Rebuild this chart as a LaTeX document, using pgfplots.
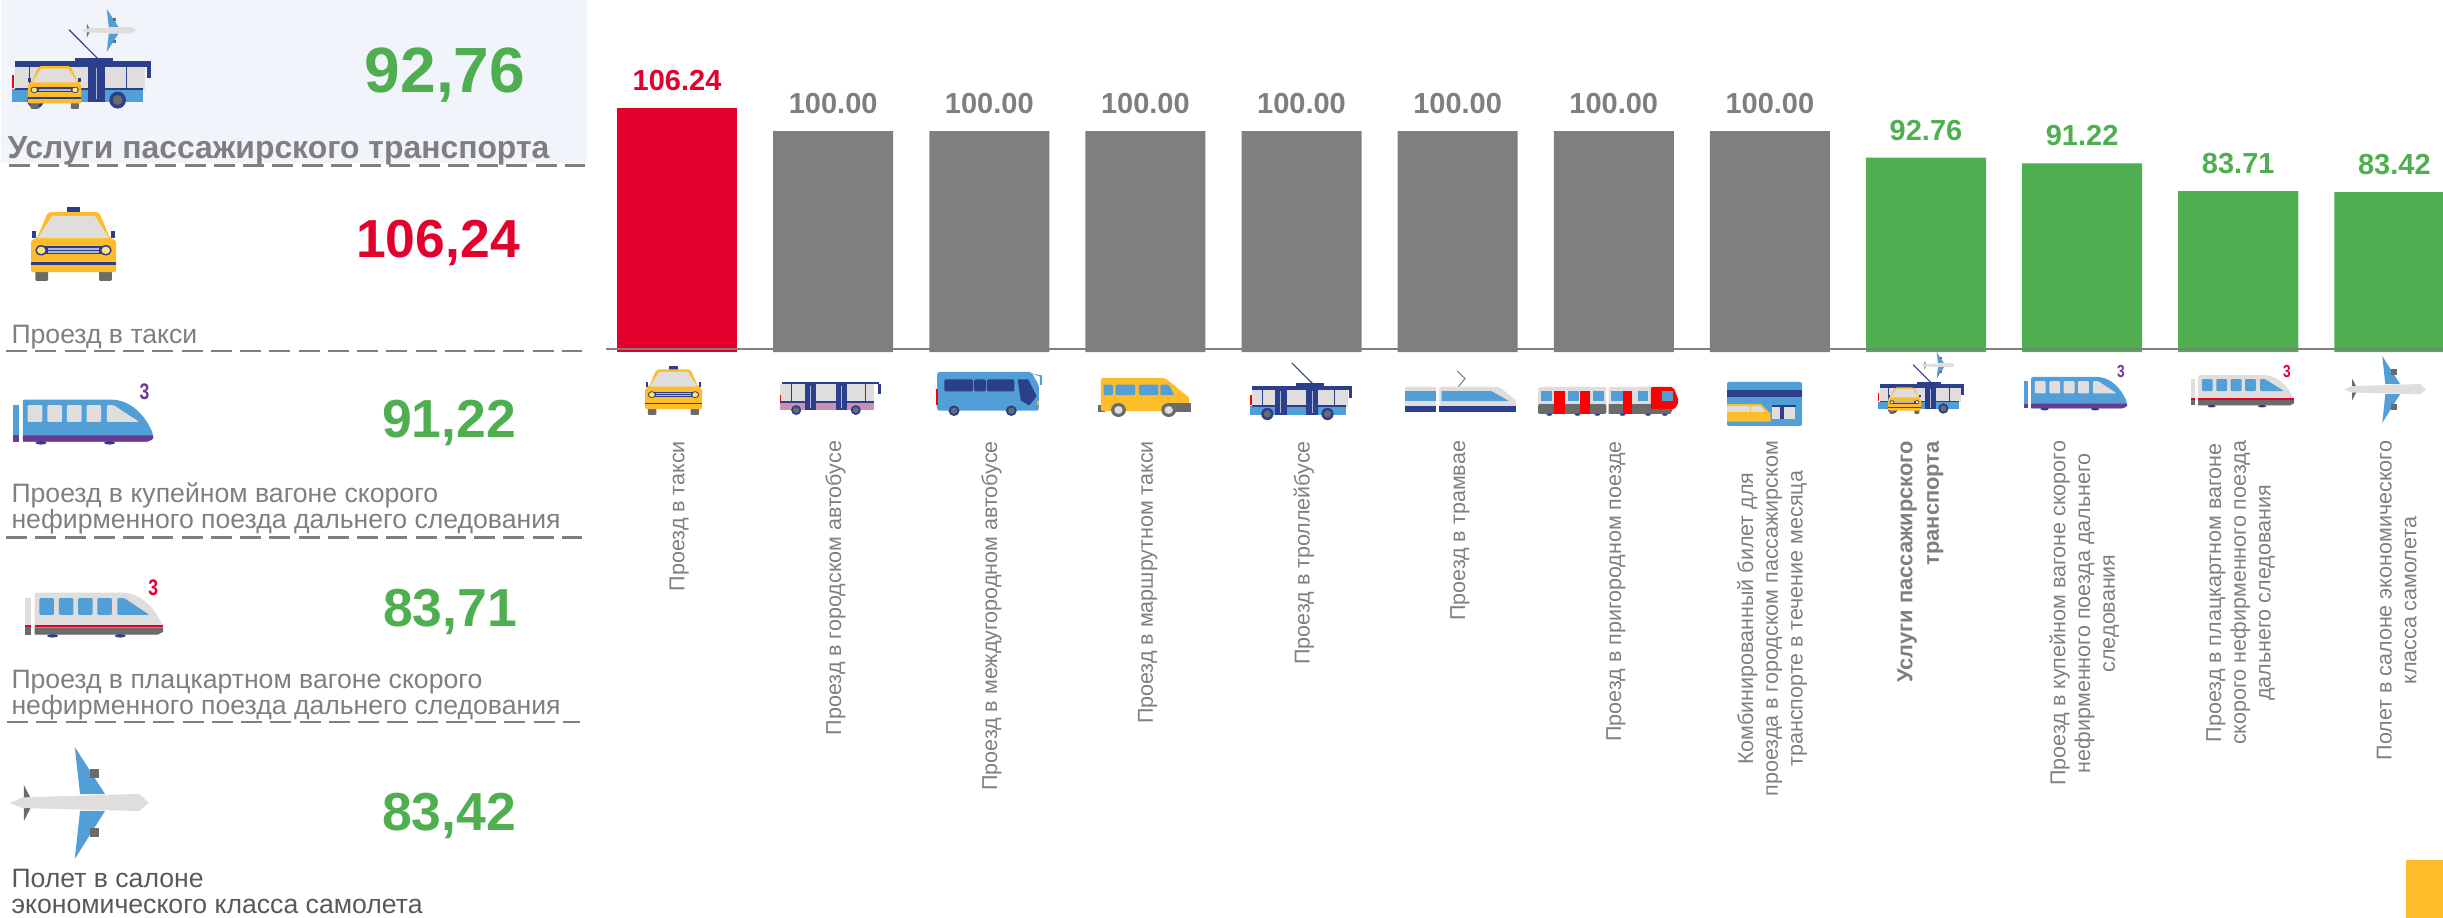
\documentclass[border=0pt]{standalone}
\usepackage{fontspec}
\setmainfont{Liberation Sans}
\usepackage{pgfplots}
\pgfplotsset{compat=1.18}
\definecolor{cred}{HTML}{E3002C}
\definecolor{cgray}{HTML}{7F7F7F}
\definecolor{cgreen}{HTML}{4FAF50}
\definecolor{cpanel}{HTML}{F2F4FB}
\definecolor{cdark}{HTML}{595959}
\definecolor{yel}{HTML}{FDBD2B}
\definecolor{tnavy}{HTML}{2B3F8A}
\definecolor{tblue}{HTML}{529FD7}
\definecolor{lgr}{HTML}{DFDEDC}
\definecolor{dgr}{HTML}{6B6B6B}
\definecolor{tpink}{HTML}{C891B5}
\definecolor{tpurple}{HTML}{6A3A93}
\definecolor{stripe}{HTML}{AEB8D8}
\definecolor{lamp}{HTML}{FFE27A}
\newcommand\place[5]{\begin{scope}[shift={(#1,#2)},xscale={(#3-(#1))/100},yscale={(#4-(#2))/100}]#5\end{scope}}
\newcommand\taxi{%
 \fill[dgr,rounded corners=.4pt] (5,83) rectangle (20,100);
 \fill[dgr,rounded corners=.4pt] (80,83) rectangle (95,100);
 \fill[tnavy] (42,0) rectangle (58,8);
 \fill[yel,rounded corners=.8pt] (20,7) -- (80,7) -- (93,42) -- (100,45) -- (100,88) -- (0,88) -- (0,45) -- (7,42) -- cycle;
 \fill[lgr] (25,12) -- (75,12) -- (92,42) -- (8,42) -- cycle;
 \fill[tnavy] (1,32) rectangle (6,42);
 \fill[tnavy] (94,32) rectangle (99,42);
 \fill[tnavy] (14,53) rectangle (86,64);
 \fill[stripe] (20,55.5) rectangle (80,57.5);
 \fill[stripe] (20,59.5) rectangle (80,61.5);
 \fill[tnavy] (12,58.5) ellipse [x radius=7,y radius=7];
 \fill[tnavy] (88,58.5) ellipse [x radius=7,y radius=7];
 \fill[lamp] (12,58.5) ellipse [x radius=5,y radius=5];
 \fill[lamp] (88,58.5) ellipse [x radius=5,y radius=5];
 \fill[tnavy] (0,75) rectangle (100,78);
}
\newcommand\trolley{%
 \draw[tnavy,line width=.45pt] (41,0) -- (62,38);
 \fill[tnavy] (45,36) rectangle (73,42);
 \fill[lgr] (2,45) rectangle (96,78);
 \fill[tblue] (0,77) rectangle (94,93);
 \fill[tnavy] (2,41) rectangle (100,48);
 \fill[tnavy] (2,75) rectangle (94,78);
 \fill[tnavy] (12,46) rectangle (13,77);
 \fill[tnavy] (82,46) rectangle (83,77);
 \fill[tnavy] (24,46) rectangle (36,93);
 \fill[tnavy] (55,46) rectangle (67,93);
 \fill[stripe] (29.6,50) rectangle (30.4,90);
 \fill[stripe] (60.6,50) rectangle (61.4,90);
 \fill[tnavy] (97,47) rectangle (100,62);
 \fill[red] (0,58) rectangle (1.5,75);
 \fill[tnavy] (17,91) ellipse [x radius=6,y radius=11];
 \fill[tnavy] (76,91) ellipse [x radius=6,y radius=11];
 \fill[dgr] (17,91) ellipse [x radius=3.5,y radius=6.5];
 \fill[dgr] (76,91) ellipse [x radius=3.5,y radius=6.5];
}
\newcommand\bus{%
 \fill[lgr] (0,7) rectangle (93,62);
 \fill[tpink] (0,62) rectangle (93,86);
 \fill[tnavy] (2,0) rectangle (98,7);
 \fill[tnavy] (0,58) rectangle (93,63);
 \fill[tnavy] (11,7) rectangle (12,58);
 \fill[tnavy] (84,7) rectangle (85,58);
 \fill[tnavy] (25,7) rectangle (36,86);
 \fill[tnavy] (55,7) rectangle (66,86);
 \fill[stripe] (30,12) rectangle (31,80);
 \fill[stripe] (60,12) rectangle (61,80);
 \fill[tnavy] (97,5) rectangle (100,35);
 \fill[red] (0,40) rectangle (1,62);
 \fill[tnavy] (16,85) ellipse [x radius=5,y radius=15];
 \fill[tnavy] (75,85) ellipse [x radius=5,y radius=15];
 \fill[dgr] (16,85) ellipse [x radius=3,y radius=9];
 \fill[dgr] (75,85) ellipse [x radius=3,y radius=9];
}
\newcommand\coach{%
 \fill[tblue,rounded corners=1pt] (1,0) -- (90,0) -- (97,30) -- (97,88) -- (1,88) -- cycle;
 \fill[tblue] (90,3) -- (100,8) -- (100,30) -- (98,30) -- (98,10) -- cycle;
 \fill[tnavy,rounded corners=.5pt] (8,17) rectangle (35,44);
 \fill[tnavy,rounded corners=.5pt] (36,17) rectangle (47,44);
 \fill[tnavy,rounded corners=.5pt] (48,17) rectangle (74,44);
 \fill[tnavy] (77,17) -- (87,17) -- (95,55) -- (88,76) -- (80,65) -- cycle;
 \fill[red] (0,38) rectangle (1.5,75);
 \fill[yel] (95,66) rectangle (97,76);
 \fill[tnavy] (17,88) ellipse [x radius=5.2,y radius=12];
 \fill[tnavy] (71,88) ellipse [x radius=5.2,y radius=12];
 \fill[dgr] (17,88) ellipse [x radius=3,y radius=7];
 \fill[dgr] (71,88) ellipse [x radius=3,y radius=7];
}
\newcommand\minibus{%
 \fill[dgr] (0,68) rectangle (8,86);
 \fill[yel,rounded corners=1pt] (3,0) -- (72,0) -- (98,50) -- (98,85) -- (3,85) -- cycle;
 \fill[dgr] (75,64) -- (100,64) -- (100,86) -- (75,86) -- cycle;
 \fill[tblue,rounded corners=.5pt] (6,17) rectangle (16,44);
 \fill[tblue,rounded corners=.5pt] (19,17) rectangle (40,44);
 \fill[tblue,rounded corners=.5pt] (44,17) rectangle (65,44);
 \fill[tblue,rounded corners=.5pt] (67,17) -- (76,17) -- (82,44) -- (67,44) -- cycle;
 \fill[dgr] (22,82) ellipse [x radius=8,y radius=18];
 \fill[dgr] (76,82) ellipse [x radius=8,y radius=18];
 \fill[lgr] (22,82) ellipse [x radius=4.5,y radius=10];
 \fill[lgr] (76,82) ellipse [x radius=4.5,y radius=10];
}
\newcommand\tram{%
 \draw[dgr,line width=.35pt] (47,0) -- (54,18) -- (48,38);
 \fill[lgr,rounded corners=.5pt] (0,38) rectangle (28,92);
 \fill[tblue] (0,48) rectangle (28,72);
 \fill[tnavy] (0,84) rectangle (28,97);
 \fill[lgr,rounded corners=.6pt] (31,38) -- (85,38) -- (100,70) -- (100,92) -- (31,92) -- cycle;
 \fill[tblue] (33,48) -- (78,48) -- (94,72) -- (33,72) -- cycle;
 \fill[tnavy] (31,84) rectangle (100,97);
}
\newcommand\suburban{%
 \fill[lgr,rounded corners=.5pt] (0,0) rectangle (48.5,62);
 \fill[dgr,rounded corners=.5pt] (0,60) rectangle (48.5,94);
 \fill[lgr,rounded corners=.5pt] (50,0) rectangle (84,62);
 \fill[dgr] (50,60) -- (97,60) -- (94,94) -- (50,94) -- cycle;
 \foreach \a/\b in {2/10,21/29,39/47,52/60,71/78}{\fill[tblue] (\a,15) rectangle (\b,50);}
 \foreach \a/\b in {11/19,30/37,60/67}{\fill[red] (\a,15) rectangle (\b,94);}
 \fill[red,rounded corners=.8pt] (80,0) -- (96,0) -- (100,50) -- (97,78) -- (80,78) -- cycle;
 \fill[tblue] (88,15) rectangle (96,50);
 \foreach \a in {8,28,42,60,78,90}{\fill[tnavy] (\a,97) ellipse [x radius=2,y radius=4];}
}
\newcommand\card{%
 \fill[tblue,rounded corners=.8pt] (0,0) rectangle (100,100);
 \fill[tnavy] (0,18) rectangle (100,35);
 \fill[yel] (0,50) -- (45,50) -- (58,72) -- (58,90) -- (0,90) -- cycle;
 \fill[lgr] (0,54) -- (30,54) -- (30,68) -- (0,68) -- cycle;
 \fill[lgr] (32,54) -- (44,54) -- (52,68) -- (32,68) -- cycle;
 \fill[lgr] (60,55) rectangle (90,85);
 \fill[tnavy] (60,52) rectangle (92,56);
 \fill[tnavy] (70,56) rectangle (76,85);
}
\newcommand\plane{%
 \fill[tblue] (46.6,0) -- (68.4,42) -- (50.4,42) -- cycle;
 \fill[tblue] (46.6,100) -- (68.4,57) -- (50.4,57) -- cycle;
 \fill[dgr] (57.5,20) rectangle (64,28);
 \fill[dgr] (57.5,72) rectangle (64,80);
 \fill[dgr] (10,34) -- (15,46) -- (10,46) -- cycle;
 \fill[dgr] (10,66) -- (15,54) -- (10,54) -- cycle;
 \fill[lgr] (0,50) -- (9,45) -- (88,42) -- (93,42) -- (100,50) -- (93,57) -- (88,57) -- (9,54.5) -- cycle;
}
\newcommand\trainbody[2]{%
 \fill[#1] (0,32) rectangle (4,96);
 \fill[#1,rounded corners=.8pt] (7,22) -- (70,22) .. controls (84,24) and (94,48) .. (100,82) -- (100,92) -- (96,96) -- (7,96) -- cycle;
 \foreach \a/\b in {10.5/21,24.5/35,38.5/49,52.5/63}{\fill[#2,rounded corners=.4pt] (\a,32) rectangle (\b,61);}
 \fill[#2,rounded corners=.4pt] (67,32) -- (72,32) -- (90,61) -- (67,61) -- cycle;
}
\newcommand\trainb[1]{%
 \trainbody{tblue}{lgr}
 \fill[tpurple] (7,85) -- (100,85) -- (100,91) -- (96,96) -- (7,96) -- cycle;
 \fill[tpurple] (0,85) rectangle (4,96);
 \fill[tnavy] (20,98) ellipse [x radius=4,y radius=3];
 \fill[tnavy] (69,98) ellipse [x radius=4,y radius=3];
 \node[inner sep=0,xscale=.78,text=tpurple,font=\bfseries\fontsize{#1}{#1}\selectfont] at (94,9) {3};
}
\newcommand\trainc[1]{%
 \trainbody{lgr}{tblue}
 \fill[dgr] (7,83) -- (100,83) -- (100,91) -- (96,96) -- (7,96) -- cycle;
 \fill[dgr] (0,83) rectangle (4,96);
 \fill[cred] (7,79) rectangle (100,83);
 \fill[cred] (0,79) rectangle (4,83);
 \fill[tnavy] (20,98) ellipse [x radius=4,y radius=3];
 \fill[tnavy] (69,98) ellipse [x radius=4,y radius=3];
 \node[inner sep=0,xscale=.78,text=cred,font=\bfseries\fontsize{#1}{#1}\selectfont] at (93,14) {3};
}
\newcommand\combo{%
 \place{0}{20.7}{100}{98}{\trolley}
 \place{50}{0}{89}{43}{\plane}
 \place{11.4}{54}{50}{100}{\taxi}
}
\newcommand\num[5]{\node[anchor=base,inner sep=0,text=#4,font=\bfseries\fontsize{#3}{#3}\selectfont] at (#1,#2) {#5};}
\newcommand\ltxt[4]{\node[anchor=base west,inner sep=0,text=#3,font=\fontsize{10.65}{12}\selectfont] at (#1,#2) {#4};}
\begin{document}
\begin{tikzpicture}[x=0.4pt,y=-0.4pt]
\path[use as bounding box] (0,0) rectangle (2443,918);
% left panel
\fill[cpanel] (1,0) rectangle (587,163);
\node[anchor=base west,inner sep=0,text=cgray,font=\bfseries\fontsize{12.75}{14}\selectfont] at (7,159) {Услуги пассажирского транспорта};
\ltxt{11}{344}{cgray}{Проезд в такси}
\ltxt{11}{502.7}{cgray}{Проезд в купейном вагоне скорого}
\ltxt{11}{528.5}{cgray}{нефирменного поезда дальнего следования}
\ltxt{11}{688.7}{cgray}{Проезд в плацкартном вагоне скорого}
\ltxt{11}{714.5}{cgray}{нефирменного поезда дальнего следования}
\ltxt{11}{887}{cdark}{Полет в салоне}
\ltxt{11}{913}{cdark}{экономического класса самолета}
\foreach \y/\a/\b in {165.7/9/585,351/6/582,537.7/6/582,722/7/580}{
  \draw[cgray,line width=1.1pt,dash pattern=on 8.4pt off 3.3pt] (\a,\y) -- (\b,\y);
}
\num{445}{93}{25.6}{cgreen}{92,76}
\num{438}{258}{21.4}{cred}{106,24}
\num{449}{437}{21.4}{cgreen}{91,22}
\num{450}{626}{21.4}{cgreen}{83,71}
\num{449}{830}{21.4}{cgreen}{83,42}
\place{12}{9}{151}{109}{\combo}
\place{31}{207}{116}{281}{\taxi}
\place{13}{387}{153}{444}{\trainb{9}}
\place{25}{580}{163}{637}{\trainc{9}}
\place{10}{747}{149}{859}{\plane}
% bar chart
\begin{axis}[
  at={(242.4pt,-140.8pt)},anchor=south west,
  scale only axis,width=734.8pt,height=140.8pt,
  xmin=-0.455,xmax=11.312,ymin=40,ymax=135.6,
  axis line style={draw=none},major tick length=0pt,
  ytick=\empty,
  xtick={0,1,2,3,4,5,6,7,8,9,10,11},
  xticklabels={
    {Проезд в такси},
    {Проезд в городском автобусе},
    {Проезд в междугородном автобусе},
    {Проезд в маршрутном такси},
    {Проезд в троллейбусе},
    {Проезд в трамвае},
    {Проезд в пригородном поезде},
    {Комбинированный билет для\\проезда в городском пассажирском\\транспорте в течение месяца},
    {\raisebox{3.2pt}[\height][\depth]{\fontsize{8.75}{10.6}\selectfont\begin{tabular}{@{}r@{}}\textbf{Услуги пассажирского}\hspace{3.3pt}\\\textbf{транспорта}\hspace{3.3pt}\end{tabular}}},
    {Проезд в купейном вагоне скорого\\нефирменного поезда дальнего\\следования},
    {Проезд в плацкартном вагоне\\скорого нефирменного поезда\\дальнего следования},
    {Полет в салоне экономического\\класса самолета}},
  xticklabel style={rotate=90,anchor=east,align=center,text=cgray,inner sep=0,xshift=-35.4pt,yshift=-.9pt,
     font=\fontsize{8.6}{9.9}\selectfont},
  every node near coord/.append style={anchor=base,yshift=7pt,inner sep=0,
     font=\bfseries\fontsize{11.6}{12}\selectfont},
  nodes near coords,
  /pgf/number format/.cd,fixed,fixed zerofill,precision=2,assume math mode=true,
]
\addplot[ybar,bar width=48pt,bar shift=0pt,fill=cred,draw=none,
  every node near coord/.append style={text=cred}] coordinates {(0,106.24)};
\addplot[ybar,bar width=48pt,bar shift=0pt,fill=cgray,draw=none,
  every node near coord/.append style={text=cgray}] coordinates {(1,100)(2,100)(3,100)(4,100)(5,100)(6,100)(7,100)};
\addplot[ybar,bar width=48pt,bar shift=0pt,fill=cgreen,draw=none,
  every node near coord/.append style={text=cgreen}] coordinates {(8,92.76)(9,91.22)(10,83.71)(11,83.42)};
\addplot[cgray,line width=1.1pt,forget plot,nodes near coords=] coordinates {(-0.455,40.8)(11.312,40.8)};
\end{axis}
% pictograms
\place{645}{366}{702}{415}{\taxi}
\place{780}{382}{881}{415}{\bus}
\place{936}{372}{1042}{416}{\coach}
\place{1098}{378}{1191}{417}{\minibus}
\place{1250}{363}{1352}{419}{\trolley}
\place{1405}{371}{1516}{413}{\tram}
\place{1538}{387}{1679}{415.5}{\suburban}
\place{1727}{382}{1802}{426}{\card}
\place{1878}{352}{1964}{414}{\combo}
\place{2024}{367.5}{2127}{410}{\trainb{7}}
\place{2191}{366}{2294}{407}{\trainc{7}}
\place{2344}{356}{2426}{423}{\plane}
\fill[yel] (2405.6,860) rectangle (2443,918);
\end{tikzpicture}
\end{document}
